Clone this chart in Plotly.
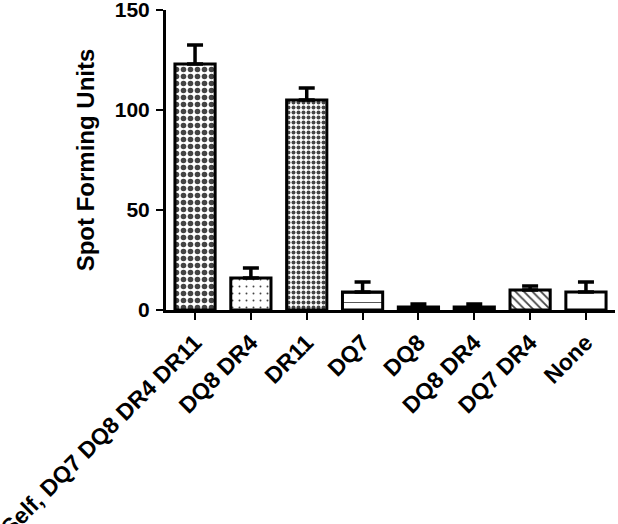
import plotly.graph_objects as go

# --- data ---
categories = ["Self, DQ7 DQ8 DR4 DR11", "DQ8 DR4", "DR11", "DQ7",
              "DQ8", "DQ8 DR4", "DQ7 DR4", "None"]
sfu_mean = [123, 16, 105, 9, 1.5, 1.5, 10, 9]
sfu_err = [9.5, 5, 6, 5, 1.5, 1.5, 2, 5]
y_ticks = [0, 50, 100, 150]

# fill styles (one per bar), mimicking the Prism hatches
fills = ["white", "white", "white", "white", "black", "black", "white", "white"]
shapes = [".", ".", ".", "-", "", "", "\\", ""]
sizes = [7, 7, 5, 9, 8, 8, 6, 8]
solid = [0.5, 0.06, 0.5, 0.1, 0.3, 0.3, 0.3, 0.3]

FONT = "Liberation Sans, Arial, sans-serif"
xpos = list(range(len(categories)))

fig = go.Figure()
fig.add_trace(go.Bar(
    x=xpos, y=sfu_mean, width=0.72,
    marker=dict(
        color=fills,
        line=dict(color="black", width=3),
        pattern=dict(shape=shapes, size=sizes, solidity=solid,
                     fgcolor="black", fgopacity=1, fillmode="overlay"),
    ),
    error_y=dict(type="data", array=sfu_err,
                 arrayminus=[0] * len(sfu_err), symmetric=False,
                 color="black", thickness=3.5, width=8),
))

fig.update_layout(
    width=618, height=524,
    margin=dict(l=166, r=3, t=10, b=214),
    paper_bgcolor="white", plot_bgcolor="white",
    showlegend=False,
    font=dict(family=FONT, color="black", size=20, weight="bold"),
    xaxis=dict(
        range=[-0.52, 7.52], tickmode="array", tickvals=xpos,
        ticktext=categories, tickangle=-45,
        ticks="outside", ticklen=7, tickwidth=2, tickcolor="black",
        showline=True, linecolor="black", linewidth=3,
        showgrid=False, zeroline=False, automargin=False,
        ticklabeloverflow="allow",
        tickfont=dict(family=FONT, size=23, weight="bold"),
    ),
    yaxis=dict(
        range=[0, 150], tickmode="array", tickvals=y_ticks,
        ticks="outside", ticklen=7, tickwidth=2, tickcolor="black",
        showline=True, linecolor="black", linewidth=3,
        showgrid=False, zeroline=False, automargin=False,
        ticklabeloverflow="allow", ticklabelstandoff=2,
        tickfont=dict(family=FONT, size=21, weight="bold"),
        title=dict(text="Spot Forming Units", standoff=14,
                   font=dict(family=FONT, size=24, weight="bold")),
    ),
)

# drop the browser's default 8px body margin so the figure sits at (0, 0)
fig.write_html("out.html", config={"displayModeBar": False},
               post_script="document.body.style.margin='0';")
